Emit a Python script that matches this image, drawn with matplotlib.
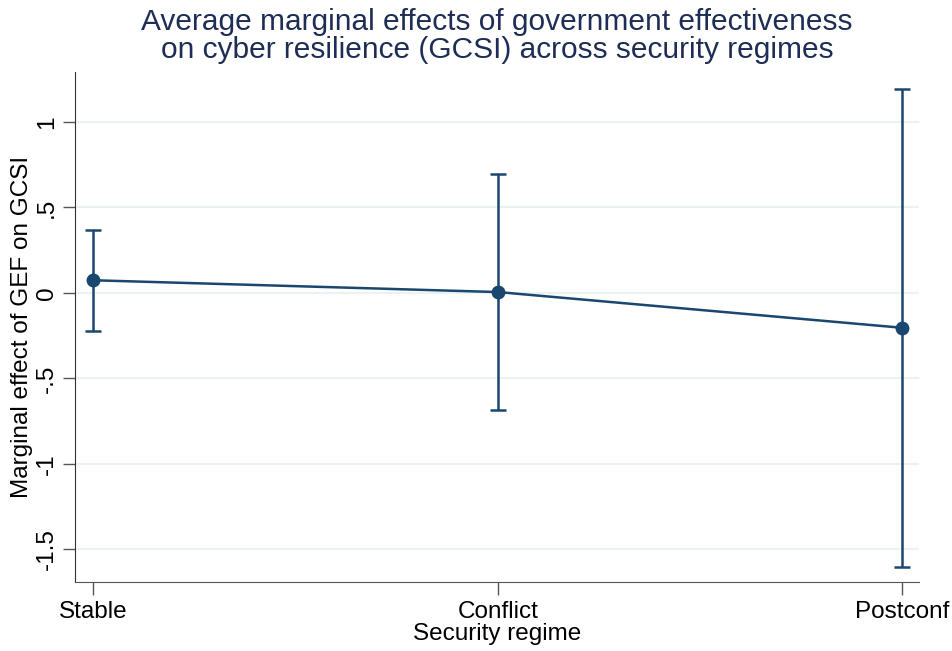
import numpy as np
import matplotlib
matplotlib.use('Agg')
import matplotlib.pyplot as plt

plt.rcParams['font.family'] = ['Liberation Sans', 'DejaVu Sans']

regimes = ['Stable', 'Conflict', 'Postconf']
effect = [0.074, 0.005, -0.204]
ci_low = [-0.221, -0.685, -1.60]
ci_high = [0.37, 0.695, 1.194]

navy = '#1a476f'
xpos = np.arange(len(regimes))
eff = np.array(effect)
yerr = [eff - np.array(ci_low), np.array(ci_high) - eff]

fig = plt.figure(figsize=(9.52, 6.51), dpi=100)
ax = fig.add_axes([0.079, 0.106, 0.886, 0.783])

ax.errorbar(xpos, eff, yerr=yerr, fmt='none', ecolor=navy, elinewidth=1.8,
            capsize=6, capthick=1.8, zorder=3)
ax.plot(xpos, eff, color=navy, lw=1.8, marker='o', ms=9, zorder=4)

ax.set_xlim(-0.045, 2.04)
ax.set_ylim(-1.69, 1.29)
ax.set_yticks([-1.5, -1, -0.5, 0, 0.5, 1])
ax.set_yticklabels(['-1.5', '-1', '-.5', '0', '.5', '1'], rotation=90, va='center')
ax.set_xticks(xpos)
ax.set_xticklabels(regimes)
ax.tick_params(labelsize=17.5, length=9, width=1, color='#555555')
ax.tick_params(axis='x', pad=5)
ax.yaxis.grid(True, color='#eaf2f3', lw=1.5)
ax.set_axisbelow(True)
for s in ['top', 'right']:
    ax.spines[s].set_visible(False)
ax.spines['left'].set_color('#333333')
ax.spines['bottom'].set_color('#555555')

ax.set_xlabel('Security regime', fontsize=17.5, labelpad=0)
ax.set_ylabel('Marginal effect of GEF on GCSI', fontsize=17.5, labelpad=2)
ax.set_title('Average marginal effects of government effectiveness\non cyber resilience (GCSI) across security regimes',
             fontsize=21.5, color='#1e2d55', linespacing=1.0, pad=10)

fig.savefig('out.png', dpi=100)
